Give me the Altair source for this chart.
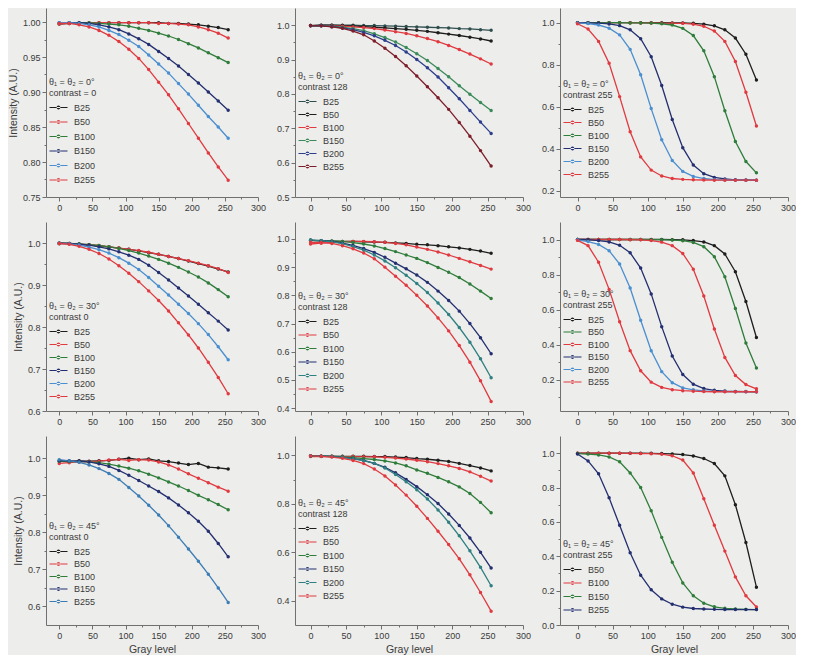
import altair as alt
import pandas as pd

GRAY = [0, 15, 30, 45, 60, 75, 90, 105, 120, 135, 150, 165, 180, 195, 210, 225, 240, 255]

# ---- theta = 0 deg, contrast 0
p11_B25 = [0.997,0.998,0.998,0.998,0.999,0.999,0.999,0.999,0.999,0.999,0.999,0.998,0.998,0.997,0.996,0.994,0.992,0.989]
p11_B50 = [0.997,0.998,0.998,0.999,0.999,0.999,0.999,0.999,0.999,0.999,0.998,0.998,0.997,0.996,0.993,0.989,0.984,0.977]
p11_B100 = [0.998,0.999,0.999,0.999,0.998,0.997,0.996,0.994,0.991,0.988,0.984,0.980,0.975,0.969,0.963,0.956,0.949,0.942]
p11_B150 = [0.999,0.999,0.999,0.998,0.996,0.993,0.989,0.983,0.976,0.968,0.958,0.948,0.937,0.925,0.913,0.900,0.887,0.874]
p11_B200 = [0.999,0.999,0.998,0.996,0.993,0.988,0.982,0.974,0.965,0.953,0.940,0.927,0.912,0.897,0.881,0.865,0.850,0.834]
p11_B255 = [0.998,0.998,0.996,0.993,0.988,0.981,0.972,0.961,0.948,0.932,0.914,0.896,0.876,0.855,0.834,0.813,0.793,0.774]

# ---- theta = 0 deg, contrast 128
p12_B25 = [0.999,1.000,1.000,1.000,1.000,0.999,0.999,0.998,0.997,0.996,0.995,0.994,0.993,0.992,0.990,0.989,0.987,0.985]
p12_B50 = [0.999,1.000,1.000,0.999,0.998,0.996,0.994,0.992,0.990,0.988,0.985,0.982,0.978,0.974,0.970,0.965,0.960,0.954]
p12_B100 = [0.998,0.998,0.998,0.997,0.995,0.993,0.990,0.986,0.981,0.976,0.969,0.961,0.952,0.941,0.929,0.916,0.902,0.887]
p12_B150 = [0.998,0.998,0.997,0.994,0.990,0.984,0.975,0.964,0.951,0.935,0.917,0.897,0.874,0.850,0.824,0.799,0.775,0.752]
p12_B200 = [0.998,0.998,0.996,0.992,0.987,0.979,0.969,0.956,0.941,0.922,0.900,0.876,0.849,0.818,0.786,0.752,0.718,0.685]
p12_B255 = [0.999,0.998,0.995,0.991,0.983,0.972,0.954,0.933,0.909,0.882,0.852,0.821,0.789,0.755,0.717,0.677,0.635,0.590]

# ---- theta = 0 deg, contrast 255
p13_B25 = [1.000,1.000,1.000,1.000,1.000,1.000,1.000,1.000,1.000,0.999,0.999,0.997,0.993,0.985,0.966,0.927,0.850,0.727]
p13_B50 = [1.000,1.000,1.000,1.000,1.000,1.000,0.999,0.999,0.998,0.997,0.997,0.993,0.983,0.960,0.911,0.815,0.669,0.508]
p13_B100 = [1.000,1.000,1.000,1.000,1.000,0.999,0.999,0.998,0.995,0.989,0.973,0.939,0.866,0.743,0.581,0.434,0.339,0.285]
p13_B150 = [1.000,0.999,0.998,0.994,0.986,0.966,0.924,0.838,0.701,0.539,0.405,0.322,0.281,0.263,0.256,0.252,0.251,0.250]
p13_B200 = [0.999,0.996,0.989,0.974,0.942,0.873,0.752,0.591,0.443,0.344,0.292,0.268,0.258,0.253,0.251,0.250,0.250,0.250]
p13_B255 = [0.995,0.970,0.911,0.807,0.648,0.481,0.361,0.298,0.270,0.258,0.254,0.252,0.251,0.250,0.250,0.250,0.250,0.250]

# ---- theta = 30 deg, contrast 0
p21_B25 = [1.000,0.999,0.997,0.995,0.993,0.991,0.988,0.985,0.981,0.977,0.973,0.968,0.963,0.957,0.951,0.945,0.938,0.931]
p21_B50 = [0.998,0.998,0.997,0.996,0.994,0.991,0.988,0.985,0.982,0.978,0.973,0.968,0.963,0.958,0.952,0.946,0.939,0.930]
p21_B100 = [0.999,0.999,0.998,0.996,0.994,0.991,0.987,0.982,0.976,0.969,0.961,0.952,0.942,0.931,0.919,0.905,0.889,0.872]
p21_B150 = [0.999,0.999,0.997,0.995,0.991,0.986,0.979,0.971,0.961,0.947,0.930,0.912,0.893,0.874,0.854,0.834,0.814,0.793]
p21_B200 = [0.999,0.998,0.995,0.990,0.984,0.976,0.965,0.952,0.937,0.918,0.897,0.876,0.854,0.832,0.808,0.782,0.753,0.722]
p21_B255 = [0.999,0.997,0.992,0.985,0.975,0.962,0.946,0.928,0.908,0.886,0.863,0.838,0.810,0.781,0.750,0.716,0.680,0.641]

# ---- theta = 30 deg, contrast 128
p22_B25 = [0.995,0.993,0.992,0.991,0.991,0.990,0.989,0.988,0.986,0.984,0.981,0.979,0.976,0.972,0.968,0.963,0.957,0.949]
p22_B50 = [0.982,0.985,0.988,0.990,0.991,0.991,0.990,0.988,0.984,0.979,0.971,0.963,0.954,0.943,0.931,0.919,0.906,0.893]
p22_B100 = [0.995,0.994,0.993,0.991,0.987,0.982,0.975,0.966,0.955,0.943,0.931,0.916,0.899,0.882,0.863,0.840,0.815,0.789]
p22_B150 = [0.995,0.994,0.991,0.985,0.977,0.966,0.952,0.935,0.914,0.894,0.872,0.846,0.815,0.782,0.744,0.700,0.650,0.593]
p22_B200 = [0.996,0.994,0.990,0.983,0.973,0.960,0.943,0.922,0.898,0.871,0.842,0.810,0.773,0.732,0.686,0.634,0.575,0.508]
p22_B255 = [0.988,0.987,0.984,0.976,0.965,0.950,0.930,0.900,0.868,0.836,0.800,0.762,0.720,0.674,0.622,0.563,0.497,0.424]

# ---- theta = 30 deg, contrast 255
p23_B25 = [1.000,1.000,1.000,1.000,1.000,1.000,1.000,1.000,1.000,0.999,0.998,0.994,0.986,0.965,0.917,0.816,0.646,0.440]
p23_B50 = [1.000,1.000,1.000,1.000,1.000,1.000,1.000,0.999,0.999,0.997,0.993,0.983,0.959,0.902,0.787,0.606,0.409,0.266]
p23_B100 = [1.000,1.000,1.000,1.000,1.000,0.999,0.998,0.994,0.985,0.965,0.920,0.830,0.677,0.489,0.326,0.223,0.171,0.147]
p23_B150 = [1.000,0.999,0.994,0.986,0.967,0.924,0.837,0.689,0.502,0.334,0.228,0.173,0.148,0.138,0.134,0.132,0.131,0.130]
p23_B200 = [0.998,0.988,0.972,0.936,0.860,0.723,0.539,0.364,0.245,0.182,0.152,0.141,0.135,0.132,0.131,0.130,0.130,0.130]
p23_B255 = [0.995,0.965,0.870,0.715,0.530,0.365,0.250,0.185,0.155,0.142,0.136,0.133,0.131,0.130,0.130,0.130,0.130,0.130]

# ---- theta = 45 deg, contrast 0
p31_B25 = [0.992,0.991,0.993,0.992,0.993,0.994,0.997,1.000,0.996,0.998,0.993,0.991,0.987,0.983,0.986,0.976,0.974,0.971]
p31_B50 = [0.986,0.988,0.990,0.991,0.992,0.995,0.997,0.994,0.996,0.995,0.990,0.982,0.971,0.958,0.946,0.934,0.922,0.911]
p31_B100 = [0.992,0.991,0.991,0.990,0.988,0.984,0.979,0.973,0.966,0.957,0.947,0.936,0.925,0.913,0.900,0.888,0.875,0.861]
p31_B150 = [0.993,0.993,0.992,0.990,0.985,0.978,0.967,0.954,0.940,0.925,0.910,0.893,0.874,0.853,0.830,0.803,0.770,0.734]
p31_B255 = [0.996,0.993,0.989,0.982,0.972,0.959,0.943,0.921,0.898,0.873,0.847,0.818,0.787,0.755,0.722,0.687,0.650,0.611]

# ---- theta = 45 deg, contrast 128
p32_B25 = [0.998,0.997,0.997,0.996,0.996,0.996,0.995,0.995,0.993,0.991,0.987,0.984,0.980,0.975,0.967,0.958,0.948,0.936]
p32_B50 = [0.995,0.995,0.995,0.995,0.995,0.994,0.994,0.992,0.989,0.985,0.980,0.974,0.966,0.957,0.946,0.932,0.914,0.894]
p32_B100 = [0.997,0.997,0.996,0.994,0.991,0.987,0.983,0.977,0.969,0.957,0.940,0.926,0.909,0.891,0.870,0.843,0.806,0.763]
p32_B150 = [0.998,0.997,0.995,0.992,0.987,0.979,0.967,0.951,0.928,0.901,0.871,0.838,0.801,0.758,0.711,0.659,0.600,0.535]
p32_B200 = [0.998,0.997,0.995,0.992,0.986,0.978,0.967,0.948,0.921,0.891,0.858,0.820,0.775,0.724,0.668,0.606,0.538,0.462]
p32_B255 = [0.998,0.996,0.993,0.988,0.979,0.966,0.944,0.915,0.878,0.836,0.790,0.740,0.687,0.632,0.573,0.507,0.434,0.357]

# ---- theta = 45 deg, contrast 255
p33_B50 = [1.000,1.000,1.000,1.000,1.000,1.000,1.000,0.999,0.998,0.996,0.992,0.984,0.969,0.940,0.868,0.700,0.480,0.220]
p33_B100 = [1.000,1.000,1.000,1.000,1.000,0.999,0.998,0.997,0.994,0.985,0.960,0.885,0.735,0.580,0.430,0.280,0.170,0.105]
p33_B150 = [0.998,0.995,0.990,0.978,0.950,0.885,0.800,0.665,0.510,0.365,0.245,0.170,0.127,0.106,0.097,0.093,0.091,0.090]
p33_B255 = [0.995,0.955,0.880,0.740,0.580,0.420,0.290,0.205,0.152,0.121,0.104,0.096,0.093,0.091,0.090,0.090,0.090,0.090]

SERIES6 = ["B25", "B50", "B100", "B150", "B200", "B255"]
SERIES5 = ["B25", "B50", "B100", "B150", "B255"]
SERIES4 = ["B50", "B100", "B150", "B255"]

BLACK = "#1e1e1e"; RED = "#e03a40"; GREEN = "#2f7d3b"; NAVY = "#232f70"
BLUE = "#4a8fd0"; STEEL = "#3d7db5"; TEAL = "#2f8082"; DKTEAL = "#2f4f4f"
DKRED = "#7d1f2a"; TGREEN = "#3a8a5a"; MBLUE = "#2c3e8c"

TXT = "#3a3a3a"
AXC = "#707070"
FONT = "Liberation Sans"
# legend glyph: thin bar with a dot in the middle (filled shape)
SYM = "M-2,-0.12H2V0.12H-2ZM-0.42,0A0.42,0.42 0 1,0 0.42,0A0.42,0.42 0 1,0 -0.42,0Z"

PANELS = [
    dict(series=SERIES6, values=[p11_B25, p11_B50, p11_B100, p11_B150, p11_B200, p11_B255],
         colors=[BLACK, RED, GREEN, NAVY, BLUE, RED], title=["θ₁ = θ₂ = 0°", "contrast = 0"],
         ydom=[0.75, 1.02], major=[0.75, 0.8, 0.85, 0.9, 0.95, 1.0],
         minor=[0.775, 0.825, 0.875, 0.925, 0.975], fmt=".2f", xmin=-20, ly=70, rp=4.5),
    dict(series=SERIES6, values=[p12_B25, p12_B50, p12_B100, p12_B150, p12_B200, p12_B255],
         colors=[DKTEAL, BLACK, RED, TGREEN, MBLUE, DKRED], title=["θ₁ = θ₂ = 0°", "contrast 128"],
         ydom=[0.5, 1.05], major=[0.5, 0.6, 0.7, 0.8, 0.9, 1.0],
         minor=[0.55, 0.65, 0.75, 0.85, 0.95], fmt=".1f", xmin=-22, ly=64, rp=3),
    dict(series=SERIES6, values=[p13_B25, p13_B50, p13_B100, p13_B150, p13_B200, p13_B255],
         colors=[BLACK, RED, GREEN, NAVY, BLUE, RED], title=["θ₁ = θ₂ = 0°", "contrast 255"],
         ydom=[0.17, 1.07], major=[0.2, 0.4, 0.6, 0.8, 1.0],
         minor=[0.3, 0.5, 0.7, 0.9], fmt=".1f", xmin=-25, ly=72, rp=3),
    dict(series=SERIES6, values=[p21_B25, p21_B50, p21_B100, p21_B150, p21_B200, p21_B255],
         colors=[BLACK, RED, GREEN, NAVY, BLUE, RED], title=["θ₁ = θ₂ = 30°", "contrast 0"],
         ydom=[0.6, 1.05], major=[0.6, 0.7, 0.8, 0.9, 1.0],
         minor=[0.65, 0.75, 0.85, 0.95], fmt=".1f", xmin=-20, ly=80, rp=3),
    dict(series=SERIES6, values=[p22_B25, p22_B50, p22_B100, p22_B150, p22_B200, p22_B255],
         colors=[BLACK, RED, GREEN, NAVY, TEAL, RED], title=["θ₁ = θ₂ = 30°", "contrast 128"],
         ydom=[0.39, 1.06], major=[0.4, 0.5, 0.6, 0.7, 0.8, 0.9, 1.0],
         minor=[0.45, 0.55, 0.65, 0.75, 0.85, 0.95], fmt=".1f", xmin=-22, ly=70, rp=3.5),
    dict(series=SERIES6, values=[p23_B25, p23_B50, p23_B100, p23_B150, p23_B200, p23_B255],
         colors=[BLACK, GREEN, RED, NAVY, BLUE, RED], title=["θ₁ = θ₂ = 30°", "contrast 255"],
         ydom=[0.02, 1.1], major=[0.2, 0.4, 0.6, 0.8, 1.0],
         minor=[0.1, 0.3, 0.5, 0.7, 0.9], fmt=".1f", xmin=-25, ly=68, rp=2.5),
    dict(series=SERIES5, values=[p31_B25, p31_B50, p31_B100, p31_B150, p31_B255],
         colors=[BLACK, RED, GREEN, NAVY, STEEL], title=["θ₁ = θ₂ = 45°", "contrast 0"],
         ydom=[0.55, 1.06], major=[0.6, 0.7, 0.8, 0.9, 1.0],
         minor=[0.65, 0.75, 0.85, 0.95], fmt=".1f", xmin=-20, ly=86, rp=2.5),
    dict(series=SERIES6, values=[p32_B25, p32_B50, p32_B100, p32_B150, p32_B200, p32_B255],
         colors=[BLACK, RED, GREEN, NAVY, TEAL, RED], title=["θ₁ = θ₂ = 45°", "contrast 128"],
         ydom=[0.3, 1.08], major=[0.4, 0.6, 0.8, 1.0],
         minor=[0.5, 0.7, 0.9], fmt=".1f", xmin=-22, ly=63, rp=3.5),
    dict(series=SERIES4, values=[p33_B50, p33_B100, p33_B150, p33_B255],
         colors=[BLACK, RED, GREEN, NAVY], title=["θ₁ = θ₂ = 45°", "contrast 255"],
         ydom=[0.0, 1.1], major=[0.0, 0.2, 0.4, 0.6, 0.8, 1.0],
         minor=[0.1, 0.3, 0.5, 0.7, 0.9], fmt=".1f", xmin=-25, ly=104, rp=3.5),
]

WIDTHS = [212, 228, 228]
HEIGHT = 189


def make_panel(spec, row, col):
    recs = []
    for name, vals in zip(spec["series"], spec["values"]):
        for g, v in zip(GRAY, vals):
            recs.append({"g": g, "v": v, "s": name})
    df = pd.DataFrame(recs)

    majors = [round(m, 3) for m in spec["major"]]
    yvals = sorted(set(majors + [round(m, 3) for m in spec["minor"]]))
    mjs = "[" + ",".join(repr(m) for m in majors) + "]"
    is_major = f"indexof({mjs}, datum.value) >= 0"

    yaxis = alt.Axis(
        values=yvals, format=spec["fmt"], grid=False,
        labelExpr=f"{is_major} ? datum.label : ''",
        tickSize={"condition": {"test": is_major, "value": 4}, "value": 2},
        title="Intensity (A.U.)" if col == 0 else None,
    )
    xaxis = alt.Axis(
        values=list(range(0, 301, 25)), grid=False, labelFlush=False,
        labelExpr="datum.value % 50 === 0 ? datum.label : ''",
        tickSize={"condition": {"test": "datum.value % 50 === 0", "value": 4}, "value": 2},
        title="Gray level" if row == 2 else None,
    )
    legend = alt.Legend(
        title=spec["title"], orient="none", legendX=3, legendY=spec["ly"],
        symbolType=SYM, symbolSize=81, symbolStrokeWidth=0, symbolOffset=5,
        labelFontSize=9, titleFontSize=9, titleFontWeight="normal",
        titleLineHeight=11, titlePadding=5, rowPadding=spec["rp"], labelOffset=11,
        padding=0, labelColor=TXT, titleColor=TXT, labelFont=FONT, titleFont=FONT,
    )
    return alt.Chart(df).mark_line(
        strokeWidth=1.3, point=alt.OverlayMarkDef(filled=True, size=12)
    ).encode(
        x=alt.X("g:Q", scale=alt.Scale(domain=[spec["xmin"], 300], nice=False, zero=False), axis=xaxis),
        y=alt.Y("v:Q", scale=alt.Scale(domain=spec["ydom"], nice=False, zero=False), axis=yaxis),
        color=alt.Color("s:N", scale=alt.Scale(domain=spec["series"], range=spec["colors"]),
                        sort=spec["series"], legend=legend),
        order=alt.Order("g:Q"),
    ).properties(width=WIDTHS[col], height=HEIGHT)


charts = [make_panel(PANELS[i], i // 3, i % 3) for i in range(9)]

chart = alt.concat(*charts, columns=3, spacing={"row": 10, "column": 10}).resolve_scale(
    x="independent", y="independent", color="independent"
).resolve_legend(color="independent").properties(
    padding={"left": 0, "top": 0, "right": 0, "bottom": 0},
    background="#ededeb",
).configure_view(strokeWidth=0).configure_axis(
    domainColor=AXC, tickColor=AXC, labelColor=TXT, titleColor=TXT,
    labelFont=FONT, titleFont=FONT, labelFontSize=9, titleFontSize=10.5,
    titleFontWeight="normal", labelPadding=2, tickWidth=1, domainWidth=1,
)

chart.save("out.html", embed_options={"renderer": "svg", "actions": False})
